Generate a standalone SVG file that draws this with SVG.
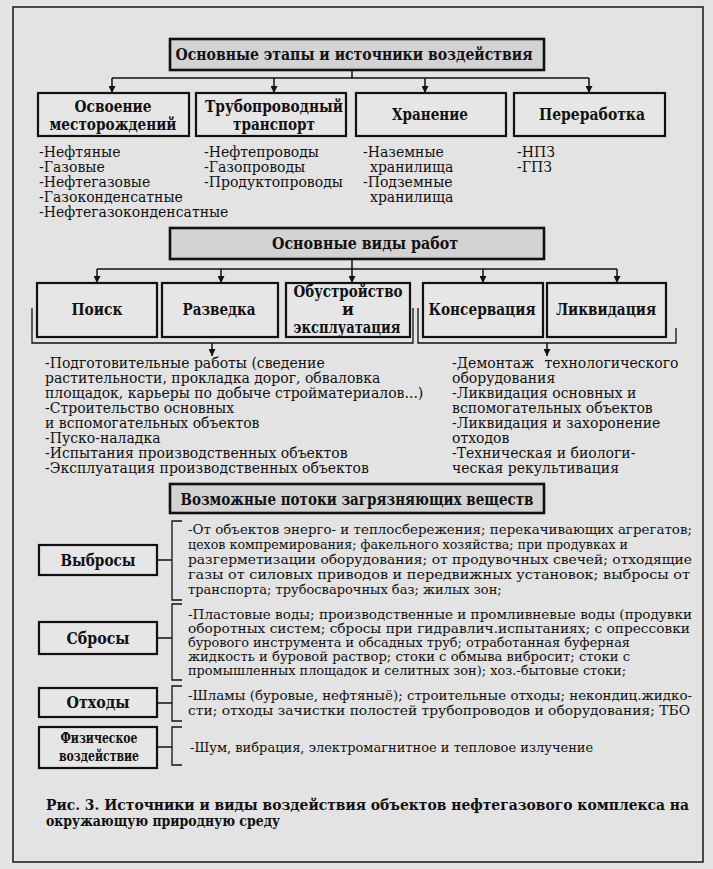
<svg xmlns="http://www.w3.org/2000/svg" width="713" height="869" viewBox="0 0 713 869">
<defs>
<marker id="ah" viewBox="0 0 10 10" refX="10" refY="5" markerWidth="10" markerHeight="7" markerUnits="userSpaceOnUse" orient="auto"><path d="M0,0 L10,5 L0,10 z" fill="#111"/></marker>
<style>
.bg{fill:#e3e3e3}
.frame{fill:none;stroke:#222;stroke-width:1.6}
.tbox{fill:#d3d3d3;stroke:#111;stroke-width:2.6}
.box{fill:#e6e6e6;stroke:#111;stroke-width:2.2}
.ln{fill:none;stroke:#111;stroke-width:1.5}
.arr{fill:none;stroke:#111;stroke-width:1.5;marker-end:url(#ah)}
.br{fill:none;stroke:#111;stroke-width:1.3}
text{font-family:"DejaVu Serif","Liberation Serif",serif;fill:#111}
.h{font-size:16px;font-weight:bold;text-anchor:middle}
.hs{font-size:14px;font-weight:bold;text-anchor:middle}
.t{font-size:14px}
.b{font-size:13px}
.cap{font-size:14px;font-weight:bold}
</style>
</defs>
<rect class="bg" x="0" y="0" width="713" height="869"/>
<rect class="frame" x="13" y="7" width="690" height="855"/>

<g id="connectors">
<path class="ln" d="M352,70 V78 M112,78 H589"/>
<path class="arr" d="M112,78 V93"/>
<path class="arr" d="M274,78 V93"/>
<path class="arr" d="M425,78 V93"/>
<path class="arr" d="M589,78 V93"/>
<path class="ln" d="M352,259 V269 M97,269 H617"/>
<path class="arr" d="M97,269 V283"/>
<path class="arr" d="M221,269 V283"/>
<path class="arr" d="M352,269 V283"/>
<path class="arr" d="M483,269 V283"/>
<path class="arr" d="M617,269 V283"/>
<path class="br" d="M32,308 V343 H413 V308"/>
<path class="br" d="M418,308 V343 H676 V328"/>
<path class="arr" d="M212,343 V356"/>
<path class="arr" d="M547,343 V356"/>
<path class="ln" d="M157,560 H172"/>
<path class="br" d="M182,521 H172 V600 H182"/>
<path class="ln" d="M157,638 H172"/>
<path class="br" d="M182,604 H172 V680 H182"/>
<path class="ln" d="M157,703 H172"/>
<path class="br" d="M182,686 H172 V721 H182"/>
<path class="ln" d="M157,747 H172"/>
<path class="br" d="M182,727 H172 V765 H182"/>
</g>

<g id="title-stages">
<rect class="tbox" x="170" y="39" width="374" height="31"/>
<text class="h" x="354" y="60" textLength="357" lengthAdjust="spacingAndGlyphs">Основные этапы и источники воздействия</text>
</g>

<g id="stage-osvoenie">
<rect class="box" x="38" y="93" width="151" height="43"/>
<text class="h" x="113" y="112" textLength="77" lengthAdjust="spacingAndGlyphs">Освоение</text>
<text class="h" x="113" y="130" textLength="127" lengthAdjust="spacingAndGlyphs">месторождений</text>
</g>
<g id="stage-truboprovod">
<rect class="box" x="196" y="93" width="150" height="43"/>
<text class="h" x="274" y="112" textLength="138" lengthAdjust="spacingAndGlyphs">Трубопроводный</text>
<text class="h" x="274" y="130" textLength="82" lengthAdjust="spacingAndGlyphs">транспорт</text>
</g>
<g id="stage-hranenie">
<rect class="box" x="356" y="93" width="150" height="43"/>
<text class="h" x="430" y="120" textLength="76" lengthAdjust="spacingAndGlyphs">Хранение</text>
</g>
<g id="stage-pererabotka">
<rect class="box" x="514" y="93" width="151" height="43"/>
<text class="h" x="592" y="120" textLength="106" lengthAdjust="spacingAndGlyphs">Переработка</text>
</g>

<g id="list-osvoenie">
<text class="t" x="39" y="157">-Нефтяные</text>
<text class="t" x="39" y="172">-Газовые</text>
<text class="t" x="39" y="187">-Нефтегазовые</text>
<text class="t" x="39" y="202">-Газоконденсатные</text>
<text class="t" x="39" y="217">-Нефтегазоконденсатные</text>
</g>
<g id="list-truboprovod">
<text class="t" x="204" y="157">-Нефтепроводы</text>
<text class="t" x="204" y="172">-Газопроводы</text>
<text class="t" x="204" y="187">-Продуктопроводы</text>
</g>
<g id="list-hranenie">
<text class="t" x="363" y="157">-Наземные</text>
<text class="t" x="370" y="172">хранилища</text>
<text class="t" x="363" y="187">-Подземные</text>
<text class="t" x="370" y="202">хранилища</text>
</g>
<g id="list-pererabotka">
<text class="t" x="517" y="157">-НПЗ</text>
<text class="t" x="517" y="172">-ГПЗ</text>
</g>

<g id="title-works">
<rect class="tbox" x="170" y="228" width="374" height="31"/>
<text class="h" x="365" y="249" textLength="186" lengthAdjust="spacingAndGlyphs">Основные виды работ</text>
</g>

<g id="work-poisk">
<rect class="box" x="37" y="283" width="120" height="54"/>
<text class="h" x="97" y="315" textLength="51" lengthAdjust="spacingAndGlyphs">Поиск</text>
</g>
<g id="work-razvedka">
<rect class="box" x="162" y="283" width="116" height="54"/>
<text class="h" x="219" y="315" textLength="73" lengthAdjust="spacingAndGlyphs">Разведка</text>
</g>
<g id="work-obustroystvo">
<rect class="box" x="286" y="283" width="124" height="54"/>
<text class="h" x="348" y="297" textLength="109" lengthAdjust="spacingAndGlyphs">Обустройство</text>
<text class="h" x="348" y="315">и</text>
<text class="h" x="347" y="333" textLength="107" lengthAdjust="spacingAndGlyphs">эксплуатация</text>
</g>
<g id="work-konservaciya">
<rect class="box" x="423" y="283" width="120" height="54"/>
<text class="h" x="482" y="315" textLength="107" lengthAdjust="spacingAndGlyphs">Консервация</text>
</g>
<g id="work-likvidaciya">
<rect class="box" x="547" y="283" width="119" height="54"/>
<text class="h" x="606" y="315" textLength="100" lengthAdjust="spacingAndGlyphs">Ликвидация</text>
</g>

<g id="list-works-left">
<text class="t" x="45" y="368">-Подготовительные работы (сведение</text>
<text class="t" x="45" y="383">растительности, прокладка дорог, обваловка</text>
<text class="t" x="45" y="398">площадок, карьеры по добыче стройматериалов...)</text>
<text class="t" x="45" y="413">-Строительство основных</text>
<text class="t" x="45" y="428">и вспомогательных объектов</text>
<text class="t" x="45" y="443">-Пуско-наладка</text>
<text class="t" x="45" y="458">-Испытания производственных объектов</text>
<text class="t" x="45" y="473">-Эксплуатация производственных объектов</text>
</g>
<g id="list-works-right">
<text class="t" x="452" y="368">-Демонтаж <tspan dx="6">технологического</tspan></text>
<text class="t" x="452" y="383">оборудования</text>
<text class="t" x="452" y="398">-Ликвидация основных и</text>
<text class="t" x="452" y="413">вспомогательных объектов</text>
<text class="t" x="452" y="428">-Ликвидация и захоронение</text>
<text class="t" x="452" y="443">отходов</text>
<text class="t" x="452" y="458">-Техническая и биологи-</text>
<text class="t" x="452" y="473">ческая рекультивация</text>
</g>

<g id="title-flows">
<rect class="tbox" x="170" y="484" width="374" height="29"/>
<text class="h" x="357" y="505" textLength="353" lengthAdjust="spacingAndGlyphs">Возможные потоки загрязняющих веществ</text>
</g>

<g id="flow-vybrosy">
<rect class="box" x="39" y="545" width="118" height="30"/>
<text class="h" x="98" y="566" textLength="75" lengthAdjust="spacingAndGlyphs">Выбросы</text>
</g>
<g id="text-vybrosy">
<text class="b" x="188" y="534" textLength="504" lengthAdjust="spacingAndGlyphs">-От объектов энерго- и теплосбережения; перекачивающих агрегатов;</text>
<text class="b" x="188" y="549" textLength="440" lengthAdjust="spacingAndGlyphs">цехов компремирования; факельного хозяйства; при продувках и</text>
<text class="b" x="188" y="564" textLength="504" lengthAdjust="spacingAndGlyphs">разгерметизации оборудования; от продувочных свечей; отходящие</text>
<text class="b" x="188" y="579" textLength="502" lengthAdjust="spacingAndGlyphs">газы от силовых приводов и передвижных установок; выбросы от</text>
<text class="b" x="188" y="594">транспорта; трубосварочных баз; жилых зон;</text>
</g>

<g id="flow-sbrosy">
<rect class="box" x="39" y="622" width="118" height="32"/>
<text class="h" x="98" y="644" textLength="63" lengthAdjust="spacingAndGlyphs">Сбросы</text>
</g>
<g id="text-sbrosy">
<text class="b" x="188" y="619" textLength="504" lengthAdjust="spacingAndGlyphs">-Пластовые воды; производственные и промливневые воды (продувки</text>
<text class="b" x="188" y="633" textLength="502" lengthAdjust="spacingAndGlyphs">оборотных систем; сбросы при гидравлич.испытаниях; с опрессовки</text>
<text class="b" x="188" y="647" textLength="442" lengthAdjust="spacingAndGlyphs">бурового инструмента и обсадных труб; отработанная буферная</text>
<text class="b" x="188" y="661" textLength="442" lengthAdjust="spacingAndGlyphs">жидкость и буровой раствор; стоки с обмыва вибросит; стоки с</text>
<text class="b" x="188" y="675" textLength="438" lengthAdjust="spacingAndGlyphs">промышленных площадок и селитных зон); хоз.-бытовые стоки;</text>
</g>

<g id="flow-othody">
<rect class="box" x="39" y="688" width="118" height="29"/>
<text class="h" x="98" y="708" textLength="63" lengthAdjust="spacingAndGlyphs">Отходы</text>
</g>
<g id="text-othody">
<text class="b" x="188" y="700" textLength="504" lengthAdjust="spacingAndGlyphs">-Шламы (буровые, нефтяныё); строительные отходы; некондиц.жидко-</text>
<text class="b" x="188" y="715" textLength="502" lengthAdjust="spacingAndGlyphs">сти; отходы зачистки полостей трубопроводов и оборудования; ТБО</text>
</g>

<g id="flow-fizicheskoe">
<rect class="box" x="39" y="727" width="118" height="41"/>
<text class="hs" x="99" y="743" textLength="77" lengthAdjust="spacingAndGlyphs">Физическое</text>
<text class="hs" x="99" y="761" textLength="80" lengthAdjust="spacingAndGlyphs">воздействие</text>
</g>
<g id="text-fizicheskoe">
<text class="b" x="190" y="752">-Шум, вибрация, электромагнитное и тепловое излучение</text>
</g>

<g id="caption">
<text class="cap" x="46" y="810" textLength="643" lengthAdjust="spacingAndGlyphs">Рис. 3. Источники и виды воздействия объектов нефтегазового комплекса на</text>
<text class="cap" x="46" y="826" textLength="234" lengthAdjust="spacingAndGlyphs">окружающую природную среду</text>
</g>
</svg>
